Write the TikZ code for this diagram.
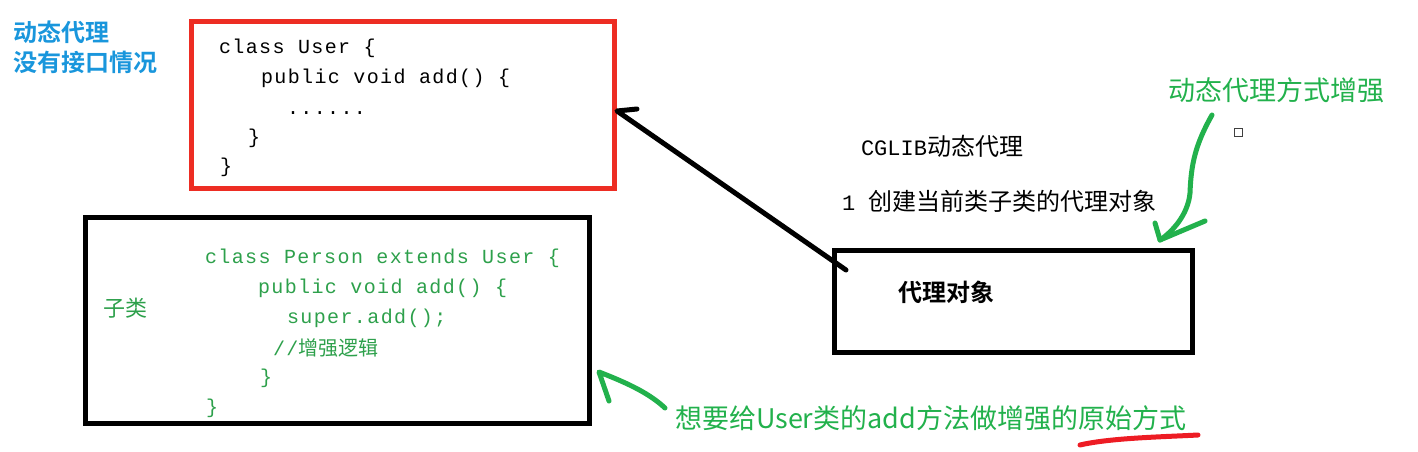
\documentclass[tikz,border=0pt]{standalone}
\usepackage{fontspec}
\newfontfamily\cjk{Noto Sans CJK SC}
\newfontfamily\cjkbold{Noto Sans CJK SC Bold}
\newfontfamily\codefont[LetterSpace=7]{Liberation Mono}
\newfontfamily\monofont{Liberation Mono}
\definecolor{boxred}{RGB}{237,45,35}
\definecolor{codegreen}{RGB}{45,160,75}
\definecolor{paintgreen}{RGB}{34,177,76}
\definecolor{paintred}{RGB}{237,28,36}
\definecolor{tblue}{RGB}{25,150,220}
\tikzset{
  txt/.style={anchor=base west, inner sep=0pt, outer sep=0pt},
  code/.style={txt, font=\codefont\fontsize{20pt}{24pt}\selectfont},
  mixed/.style={txt, font=\monofont\fontsize{22pt}{24pt}\selectfont},
  cjktxt/.style={txt, font=\cjk\fontsize{#1pt}{#1pt}\selectfont},
  cjkboldtxt/.style={txt, font=\cjkbold\fontsize{#1pt}{#1pt}\selectfont},
  framebox/.style={draw, line width=5pt, inner sep=0pt},
  thick line/.style={line width=5pt, line cap=round, line join=round},
}
\begin{document}
\begin{tikzpicture}[x=1pt,y=-1pt]
\useasboundingbox (0,0) rectangle (1418,452);
% blue label
\node[cjkboldtxt=24, text=tblue] (b1) at (13,42) {动态代理};
\node[cjkboldtxt=24, text=tblue] (b2) at (13,71) {没有接口情况};
% red User box
\node[framebox, draw=boxred, minimum width=423pt, minimum height=167pt] (user) at (403,105) {};
\node[code] (u1) at (219,53) {class User \{};
\node[code] (u2) at (261,83) {public void add() \{};
\node[code] (u3) at (287,114) {......};
\node[code] (u4) at (248,143) {\}};
\node[code] (u5) at (220,172) {\}};
% Person box
\node[framebox, minimum width=504pt, minimum height=206pt] (person) at (337.5,320) {};
\node[cjktxt=22, text=codegreen] (zl) at (103,316) {子类};
\node[code, text=codegreen] (p1) at (205,263) {class Person extends User \{};
\node[code, text=codegreen] (p2) at (258,293) {public void add() \{};
\node[code, text=codegreen] (p3) at (287,323) {super.add();};
\node[code, text=codegreen] (p4) at (273,355) {//{\cjk\fontsize{20pt}{24pt}\selectfont 增强逻辑}};
\node[code, text=codegreen] (p5) at (260,383) {\}};
\node[code, text=codegreen] (p6) at (206,413) {\}};
% proxy box
\node[framebox, minimum width=358pt, minimum height=102pt] (proxy) at (1013.5,301.5) {};
\node[cjkboldtxt=24] (pt) at (898,301) {代理对象};
\node[mixed] (cg) at (861,155) {CGLIB{\cjk\fontsize{24pt}{24pt}\selectfont 动态代理}};
\node[mixed] (step1) at (842,210) {1 {\cjk\fontsize{24pt}{24pt}\selectfont 创建当前类子类的代理对象}};
% black arrow
\coordinate (pstart) at ([xshift=14pt,yshift=-22pt]proxy.north west);
\coordinate (utip) at ([yshift=-6pt]user.east);
\draw[thick line] (pstart) -- (utip) -- ++(20,-2);
% green title and arrow
\node[cjktxt=27, text=paintgreen] (gt) at (1168,100) {动态代理方式增强};
\node[draw=black!75, line width=1pt, minimum size=8pt, inner sep=0pt] (sq) at (1238,132) {};
\coordinate (gs) at (1212,115);
\coordinate (gtip) at (1160,240);
\draw[thick line, paintgreen] (gs) .. controls (1195,145) and (1191,165) .. (1190,193)
   .. controls (1188,215) and (1172,232) .. (gtip);
\draw[thick line, paintgreen] (1155,223) -- (gtip) -- (1205,221);
% bottom green text and arrow
\node[cjktxt=27, text=paintgreen] (bt) at (675,428) {想要给User类的add方法做增强的原始方式};
\coordinate (btip) at (599,372);
\coordinate (bs) at (665,408);
\draw[thick line, paintgreen] (bs) .. controls (650,394) and (630,384) .. (btip) -- (609,401);
% red underline
\coordinate (ul1) at (1080,445);
\coordinate (ul2) at (1198,435);
\draw[thick line, paintred] (ul1) .. controls (1110,438) and (1160,437) .. (ul2);
\end{tikzpicture}
\end{document}
